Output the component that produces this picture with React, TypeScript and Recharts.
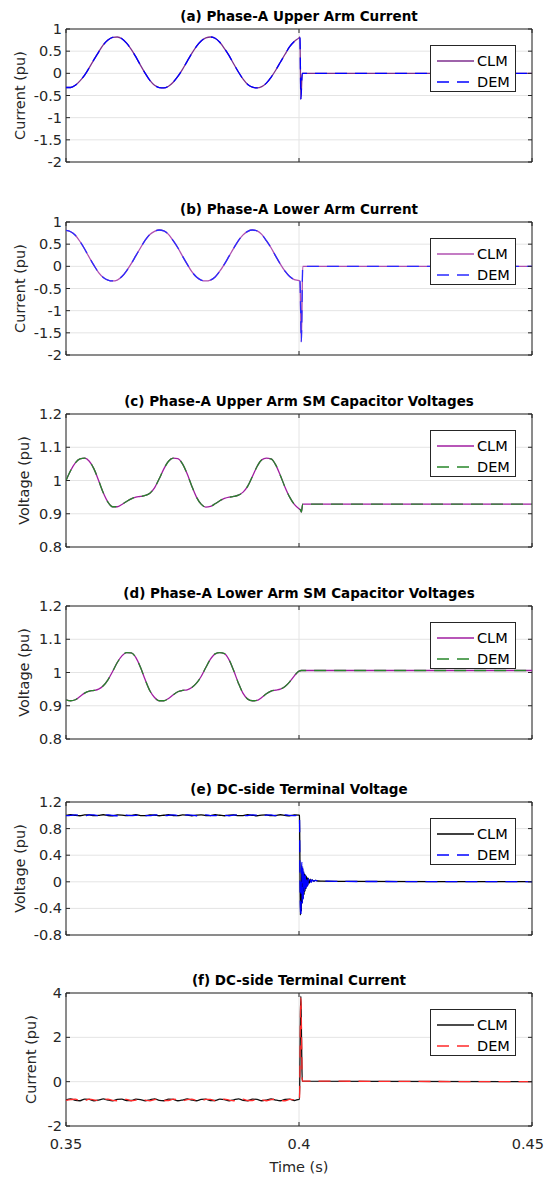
import React from 'react';
import { LineChart, Line, XAxis, YAxis, CartesianGrid, ReferenceArea } from 'recharts';

// sample times before the fault (s)
const tPre = [
  0.350, 0.351, 0.352, 0.353, 0.354, 0.355, 0.356, 0.357, 0.358, 0.359,
  0.360, 0.361, 0.362, 0.363, 0.364, 0.365, 0.366, 0.367, 0.368, 0.369,
  0.370, 0.371, 0.372, 0.373, 0.374, 0.375, 0.376, 0.377, 0.378, 0.379,
  0.380, 0.381, 0.382, 0.383, 0.384, 0.385, 0.386, 0.387, 0.388, 0.389,
  0.390, 0.391, 0.392, 0.393, 0.394, 0.395, 0.396, 0.397, 0.398, 0.399,
  0.400,
];

const xTicks = [0.35, 0.4, 0.45];

// (a) upper arm current
const aPre = [
  -0.32, -0.32, -0.27, -0.17, -0.04, 0.13, 0.31, 0.48, 0.64, 0.75,
  0.81, 0.82, 0.78, 0.68, 0.54, 0.37, 0.18, 0.0, -0.16, -0.27,
  -0.32, -0.33, -0.29, -0.2, -0.07, 0.09, 0.27, 0.45, 0.61, 0.73,
  0.8, 0.82, 0.79, 0.7, 0.56, 0.4, 0.21, 0.03, -0.13, -0.25,
  -0.31, -0.33, -0.3, -0.22, -0.09, 0.07, 0.25, 0.43, 0.6, 0.72,
  0.8,
];
const aPostT = [0.4002, 0.4004, 0.4007, 0.45];
const aPost = [0.82, -0.58, 0.0, 0.0];
const aTicks = [-2, -1.5, -1, -0.5, 0, 0.5, 1];

// (b) lower arm current
const bPre = [
  0.81, 0.78, 0.7, 0.56, 0.39, 0.2, 0.02, -0.14, -0.25, -0.31,
  -0.33, -0.31, -0.23, -0.1, 0.06, 0.24, 0.42, 0.59, 0.72, 0.79,
  0.82, 0.8, 0.72, 0.58, 0.42, 0.23, 0.05, -0.12, -0.24, -0.31,
  -0.33, -0.31, -0.24, -0.11, 0.05, 0.23, 0.41, 0.58, 0.71, 0.79,
  0.82, 0.8, 0.72, 0.58, 0.42, 0.23, 0.05, -0.11, -0.23, -0.3,
  -0.32,
];
const bPostT = [0.4002, 0.4005, 0.4008, 0.45];
const bPost = [-0.33, -1.7, 0.0, 0.0];

// (c) upper arm capacitor voltage
const cPre = [
  1.0, 1.03, 1.053, 1.065, 1.067, 1.058, 1.035, 1.0, 0.963, 0.935,
  0.921, 0.921, 0.928, 0.937, 0.945, 0.95, 0.952, 0.955, 0.962, 0.978,
  1.005, 1.035, 1.058, 1.067, 1.066, 1.05, 1.02, 0.983, 0.95, 0.929,
  0.92, 0.922, 0.93, 0.939, 0.946, 0.95, 0.952, 0.956, 0.965, 0.983,
  1.012, 1.042, 1.062, 1.067, 1.065, 1.047, 1.015, 0.98, 0.95, 0.928,
  0.915,
];
const cPostT = [0.4003, 0.4005, 0.4008, 0.45];
const cPost = [0.912, 0.905, 0.929, 0.929];
const vTicks = [0.8, 0.9, 1, 1.1, 1.2];

// (d) lower arm capacitor voltage
const dPre = [
  0.918, 0.915, 0.918, 0.928, 0.938, 0.944, 0.946, 0.95, 0.96, 0.978,
  1.003, 1.03, 1.05, 1.06, 1.059, 1.045, 1.015, 0.978, 0.945, 0.925,
  0.915, 0.915, 0.922, 0.933, 0.942, 0.946, 0.948, 0.955, 0.968, 0.988,
  1.015, 1.04, 1.056, 1.06, 1.057, 1.038, 1.005, 0.968, 0.937, 0.92,
  0.915, 0.916, 0.925, 0.936, 0.944, 0.947, 0.95, 0.958, 0.972, 0.99,
  1.004,
];
const dPostT = [0.4005, 0.45];
const dPost = [1.006, 1.006];

// (e) dc-side terminal voltage
const eClmPre = [
  1.0, 1.008, 0.998, 0.993, 1.006, 1.005, 0.994, 0.999, 1.008, 0.997,
  0.993, 1.006, 1.004, 0.994, 1.0, 1.008, 0.996, 0.994, 1.007, 1.003,
  0.993, 1.001, 1.008, 0.995, 0.994, 1.007, 1.002, 0.993, 1.002, 1.007,
  0.995, 0.995, 1.008, 1.001, 0.993, 1.003, 1.007, 0.994, 0.996, 1.008,
  1.0, 0.993, 1.004, 1.006, 0.994, 0.997, 1.008, 0.999, 0.993, 1.005,
  1.004,
];
const eDemPre = [
  0.996, 1.0, 1.007, 0.997, 0.993, 1.005, 1.005, 0.994, 0.998, 1.007,
  0.998, 0.993, 1.005, 1.004, 0.994, 0.999, 1.007, 0.997, 0.994, 1.006,
  1.003, 0.993, 1.0, 1.007, 0.996, 0.994, 1.006, 1.002, 0.993, 1.001,
  1.006, 0.996, 0.995, 1.007, 1.001, 0.993, 1.002, 1.006, 0.995, 0.996,
  1.007, 1.0, 0.993, 1.003, 1.006, 0.995, 0.997, 1.007, 0.999, 0.994,
  1.004,
];
const ePostT = [
  0.4001, 0.4002, 0.4003, 0.4004, 0.4005, 0.4006, 0.4007, 0.4008, 0.4009, 0.401,
  0.4011, 0.4012, 0.4013, 0.4014, 0.4015, 0.4016, 0.4017, 0.4018, 0.4019, 0.402,
  0.4022, 0.4024, 0.4026, 0.4028, 0.4031, 0.4035, 0.404, 0.405, 0.41, 0.45,
];
const eClmPost = [
  1.0, 0.3, -0.5, -0.1, -0.44, 0.24, -0.32, 0.2, -0.25, 0.15,
  -0.19, 0.12, -0.14, 0.1, -0.1, 0.08, -0.07, 0.06, -0.05, 0.05,
  -0.02, 0.04, 0.0, 0.03, 0.01, 0.02, 0.012, 0.01, 0.005, 0.003,
];
const eDemPost = [
  1.0, 0.1, -0.4, -0.53, 0.0, 0.29, -0.35, 0.22, -0.26, 0.16,
  -0.2, 0.13, -0.14, 0.1, -0.1, 0.08, -0.07, 0.06, -0.05, 0.05,
  -0.03, 0.04, -0.01, 0.03, 0.01, 0.02, 0.012, 0.01, 0.005, 0.003,
];
const eTicks = [-0.8, -0.4, 0, 0.4, 0.8, 1.2];

// (f) dc-side terminal current
const fClmPre = [
  -0.82, -0.78, -0.84, -0.86, -0.79, -0.8, -0.86, -0.83, -0.78, -0.83,
  -0.86, -0.8, -0.79, -0.85, -0.85, -0.79, -0.81, -0.86, -0.82, -0.78,
  -0.84, -0.86, -0.79, -0.8, -0.86, -0.83, -0.78, -0.83, -0.86, -0.8,
  -0.79, -0.85, -0.85, -0.79, -0.81, -0.86, -0.82, -0.78, -0.84, -0.86,
  -0.79, -0.8, -0.86, -0.83, -0.78, -0.83, -0.86, -0.8, -0.79, -0.85,
  -0.8,
];
const fDemPre = [
  -0.84, -0.81, -0.79, -0.85, -0.85, -0.79, -0.82, -0.86, -0.81, -0.79,
  -0.84, -0.86, -0.8, -0.8, -0.86, -0.83, -0.79, -0.83, -0.86, -0.81,
  -0.79, -0.85, -0.85, -0.79, -0.82, -0.86, -0.81, -0.79, -0.84, -0.86,
  -0.8, -0.8, -0.86, -0.83, -0.79, -0.83, -0.86, -0.81, -0.79, -0.85,
  -0.85, -0.79, -0.82, -0.86, -0.81, -0.79, -0.84, -0.86, -0.8, -0.81,
  -0.82,
];
const fPostT = [0.4001, 0.4002, 0.4003, 0.4004, 0.4005, 0.4006, 0.4007, 0.45];
const fClmPost = [-0.8, 0.8, 3.0, 3.85, 2.6, 1.0, 0.02, 0.0];
const fDemPost = [-0.82, 0.5, 2.7, 3.8, 2.9, 1.2, 0.03, 0.0];
const fTicks = [-2, 0, 2, 4];

const FONT = '"DejaVu Sans", Arial, sans-serif';
const AX = '#262626';
const GRID = '#e4e4e4';
const TOP_SPACE = 31;
const PLOT_H = 133;
const PLOT_L = 66;
const PLOT_R = 532;
const PAGE_W = 545;
const DASH = '12 8';

function makeRows(times: number[], clm: number[], dem: number[]) {
  return times.map((t, i) => ({ t, clm: clm[i], dem: dem[i] }));
}

const panels = [
  {
    title: '(a) Phase-A Upper Arm Current', yLabel: 'Current (pu)', labelX: 20, top: 29,
    domain: [-2, 1], ticks: aTicks, clmColor: '#7e2f8e', demColor: '#0000ff',
    rows: makeRows(tPre.concat(aPostT), aPre.concat(aPost), aPre.concat(aPost)),
  },
  {
    title: '(b) Phase-A Lower Arm Current', yLabel: 'Current (pu)', labelX: 20, top: 222,
    domain: [-2, 1], ticks: aTicks, clmColor: '#b050b0', demColor: '#2a2aff',
    rows: makeRows(tPre.concat(bPostT), bPre.concat(bPost), bPre.concat(bPost)),
  },
  {
    title: '(c) Phase-A Upper Arm SM Capacitor Voltages', yLabel: 'Voltage (pu)', labelX: 24, top: 414,
    domain: [0.8, 1.2], ticks: vTicks, clmColor: '#a01ea0', demColor: '#27862a',
    rows: makeRows(tPre.concat(cPostT), cPre.concat(cPost), cPre.concat(cPost)),
  },
  {
    title: '(d) Phase-A Lower Arm SM Capacitor Voltages', yLabel: 'Voltage (pu)', labelX: 24, top: 606,
    domain: [0.8, 1.2], ticks: vTicks, clmColor: '#a01ea0', demColor: '#27862a',
    rows: makeRows(tPre.concat(dPostT), dPre.concat(dPost), dPre.concat(dPost)),
  },
  {
    title: '(e) DC-side Terminal Voltage', yLabel: 'Voltage (pu)', labelX: 20, top: 802,
    domain: [-0.8, 1.2], ticks: eTicks, clmColor: '#000000', demColor: '#0000ff',
    rows: makeRows(tPre.concat(ePostT), eClmPre.concat(eClmPost), eDemPre.concat(eDemPost)),
  },
  {
    title: '(f) DC-side Terminal Current', yLabel: 'Current (pu)', labelX: 31, top: 993,
    domain: [-2, 4], ticks: fTicks, clmColor: '#111111', demColor: '#ff2a2a',
    rows: makeRows(tPre.concat(fPostT), fClmPre.concat(fClmPost), fDemPre.concat(fDemPost)),
  },
];

function YTick(props: any) {
  const { y, payload } = props;
  return (
    <g>
      <text x={62} y={y} textAnchor="end" dominantBaseline="central" fontSize={14.5} fontFamily={FONT} fill={AX}>
        {String(payload.value)}
      </text>
      <line x1={PLOT_L} x2={PLOT_L + 4} y1={y} y2={y} stroke={AX} />
      <line x1={PLOT_R} x2={PLOT_R - 4} y1={y} y2={y} stroke={AX} />
    </g>
  );
}

function makeXTick(showLabel: boolean) {
  return (props: any) => {
    const { x, payload } = props;
    const bottom = TOP_SPACE + PLOT_H;
    // keep the rightmost label inside the page
    const atEdge = x > PLOT_R - 2;
    return (
      <g>
        <line x1={x} x2={x} y1={bottom} y2={bottom - 4} stroke={AX} />
        <line x1={x} x2={x} y1={TOP_SPACE} y2={TOP_SPACE + 4} stroke={AX} />
        {showLabel && (
          <text
            x={atEdge ? PAGE_W - 1 : x}
            y={bottom + 18}
            textAnchor={atEdge ? 'end' : 'middle'}
            dominantBaseline="central"
            fontSize={14.5}
            fontFamily={FONT}
            fill={AX}
          >
            {String(payload.value)}
          </text>
        )}
      </g>
    );
  };
}

function YLabel({ caption, px }: { caption: string; px: number }) {
  const cy = TOP_SPACE + PLOT_H / 2;
  return (
    <text
      x={px}
      y={cy}
      transform={`rotate(-90 ${px} ${cy})`}
      textAnchor="middle"
      dominantBaseline="central"
      fontSize={14.5}
      fontFamily={FONT}
      fill={AX}
    >
      {caption}
    </text>
  );
}

function LegendBox({ clmColor, demColor }: { clmColor: string; demColor: string }) {
  const row = (name: string, color: string, dash: string | undefined, top: number) => (
    <div style={{ position: 'absolute', left: 0, top, height: 20, width: 86 }}>
      <svg width={44} height={20} style={{ position: 'absolute', left: 0, top: 0 }}>
        <line x1={6} x2={43} y1={10} y2={10} stroke={color} strokeWidth={1.3} strokeDasharray={dash} />
      </svg>
      <span style={{ position: 'absolute', left: 46, top: 0, lineHeight: '20px', fontSize: 14.5, fontFamily: FONT, color: '#000' }}>
        {name}
      </span>
    </div>
  );
  return (
    <div>
      {row('CLM', clmColor, undefined, 5)}
      {row('DEM', demColor, DASH, 26)}
    </div>
  );
}

export default function App() {
  return (
    <div style={{ position: 'absolute', left: 0, top: 0, width: PAGE_W, height: 1180, background: '#fff', overflow: 'hidden' }}>
      {panels.map((p, k) => {
        const last = k === panels.length - 1;
        const xh = last ? 40 : 12;
        return (
          <div key={k}>
            <div
              style={{
                position: 'absolute', left: PLOT_L, width: PLOT_R - PLOT_L, top: p.top - 21, height: 16,
                lineHeight: '16px', textAlign: 'center', fontFamily: FONT, fontWeight: 'bold', fontSize: 13.5, color: '#000',
              }}
            >
              {p.title}
            </div>
            <div style={{ position: 'absolute', left: 0, top: p.top - TOP_SPACE }}>
              <LineChart
                width={PAGE_W}
                height={TOP_SPACE + PLOT_H + xh}
                data={p.rows}
                margin={{ top: TOP_SPACE, right: PAGE_W - PLOT_R, bottom: 0, left: 0 }}
              >
                <CartesianGrid stroke={GRID} />
                <XAxis
                  dataKey="t"
                  type="number"
                  domain={[0.35, 0.45]}
                  ticks={xTicks}
                  interval={0}
                  height={xh}
                  axisLine={false}
                  tickLine={false}
                  tick={makeXTick(last)}
                  allowDataOverflow
                />
                <YAxis
                  type="number"
                  domain={p.domain}
                  ticks={p.ticks}
                  interval={0}
                  width={PLOT_L}
                  axisLine={false}
                  tickLine={false}
                  tick={<YTick />}
                  allowDataOverflow
                  label={<YLabel caption={p.yLabel} px={p.labelX} />}
                />
                <ReferenceArea x1={0.35} x2={0.45} y1={p.domain[0]} y2={p.domain[1]} fill="none" stroke={AX} strokeWidth={1} />
                <Line
                  type="monotone"
                  dataKey="clm"
                  stroke={p.clmColor}
                  strokeWidth={1.3}
                  dot={false}
                  isAnimationActive={false}
                />
                <Line
                  type="monotone"
                  dataKey="dem"
                  stroke={p.demColor}
                  strokeWidth={1.3}
                  strokeDasharray={DASH}
                  dot={false}
                  isAnimationActive={false}
                />
              </LineChart>
            </div>
            <div
              style={{
                position: 'absolute', left: 430, top: p.top + 16, width: 86, height: 47, boxSizing: 'border-box',
                border: `1px solid ${AX}`, background: '#fff',
              }}
            >
              <LegendBox clmColor={p.clmColor} demColor={p.demColor} />
            </div>
          </div>
        );
      })}
      <div
        style={{
          position: 'absolute', left: PLOT_L, width: PLOT_R - PLOT_L, top: 1158, height: 18, lineHeight: '18px',
          textAlign: 'center', fontFamily: FONT, fontSize: 14.5, color: AX,
        }}
      >
        Time (s)
      </div>
    </div>
  );
}
